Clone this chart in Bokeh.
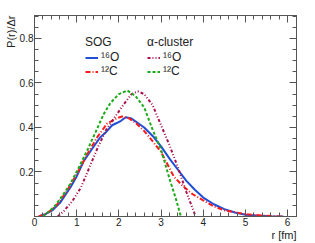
import numpy as np
from bokeh.plotting import figure
from bokeh.models import (Range1d, LinearAxis, FixedTicker, Legend, LegendItem, Title)
from bokeh.embed import file_html
from bokeh.resources import INLINE

# SOG 16O
sog_o_r = [0.1, 0.25, 0.42, 0.6, 0.85, 1.0, 1.17, 1.35, 1.56, 1.7, 1.84, 1.95, 2.05, 2.16, 2.3, 2.45, 2.6, 2.83, 3.0, 3.2, 3.4, 3.6, 3.8, 4.0, 4.25, 4.5, 4.75, 5.0, 5.3, 5.6, 5.9]
sog_o_p = [0.0, 0.01, 0.027, 0.06, 0.13, 0.18, 0.25, 0.30, 0.356, 0.38, 0.41, 0.42, 0.43, 0.446, 0.44, 0.42, 0.40, 0.356, 0.315, 0.26, 0.21, 0.16, 0.12, 0.085, 0.055, 0.033, 0.018, 0.008, 0.003, 0.001, 0.0]
# SOG 12C
sog_c_r = [0.1, 0.3, 0.5, 0.75, 1.0, 1.25, 1.5, 1.72, 1.84, 2.0, 2.08, 2.25, 2.4, 2.59, 2.75, 3.0, 3.3, 3.5, 3.75, 4.0, 4.25, 4.5, 5.0, 5.5, 5.9]
sog_c_p = [0.0, 0.015, 0.045, 0.11, 0.19, 0.28, 0.36, 0.417, 0.43, 0.445, 0.449, 0.44, 0.42, 0.386, 0.35, 0.29, 0.18, 0.14, 0.10, 0.072, 0.045, 0.028, 0.01, 0.003, 0.0]
# alpha-cluster 16O
alp_o_r = [0.55, 0.7, 0.9, 1.1, 1.3, 1.5, 1.7, 1.9, 2.1, 2.3, 2.45, 2.6, 2.8, 3.0, 3.2, 3.4, 3.6, 3.82]
alp_o_p = [0.0, 0.025, 0.07, 0.13, 0.22, 0.31, 0.39, 0.445, 0.50, 0.55, 0.562, 0.55, 0.50, 0.41, 0.32, 0.22, 0.11, 0.0]
# alpha-cluster 12C
alp_c_r = [0.2, 0.46, 0.65, 0.85, 1.05, 1.25, 1.45, 1.64, 1.8, 2.0, 2.2, 2.4, 2.6, 2.8, 3.0, 3.2, 3.35, 3.47]
alp_c_p = [0.0, 0.042, 0.09, 0.147, 0.22, 0.297, 0.38, 0.46, 0.51, 0.55, 0.566, 0.54, 0.49, 0.39, 0.30, 0.17, 0.08, 0.0]

x_ticks = [0, 1, 2, 3, 4, 5, 6]
y_ticks = [0.0, 0.2, 0.4, 0.6, 0.8]

FONT = "Liberation Sans"
FRAME = "#555555"
TXT = "#222222"

p = figure(width=312, height=243, output_backend="svg", toolbar_location=None,
           x_range=Range1d(0, 6.21), y_range=Range1d(0, 0.903),
           min_border_left=34, min_border_right=16, min_border_top=15, min_border_bottom=27)
p.grid.visible = False
p.outline_line_color = FRAME
p.outline_line_width = 1

x_minor = [round(0.2 * i, 2) for i in range(0, 32)]
y_minor = [round(0.05 * i, 2) for i in range(0, 19)]

def style(ax, ticks, minor, labels=True, standoff=3):
    ax.ticker = FixedTicker(ticks=ticks, minor_ticks=minor)
    ax.axis_line_color = FRAME
    ax.major_tick_line_color = FRAME
    ax.minor_tick_line_color = FRAME
    ax.major_tick_in = 7
    ax.major_tick_out = 0
    ax.minor_tick_in = 4
    ax.minor_tick_out = 0
    ax.major_label_text_font = FONT
    ax.major_label_text_color = TXT
    ax.major_label_text_font_size = "10px"
    if labels:
        ax.major_label_standoff = standoff
    else:
        ax.major_label_standoff = 0
        ax.major_label_overrides = {t: "" for t in ticks}

style(p.xaxis[0], x_ticks, x_minor, standoff=1)
style(p.yaxis[0], y_ticks, y_minor, standoff=1)
p.yaxis[0].major_label_overrides = {0.0: ""}

top = LinearAxis()
style(top, x_ticks, x_minor, labels=False)
p.add_layout(top, "above")
right = LinearAxis()
style(right, y_ticks, y_minor, labels=False)
p.add_layout(right, "right")

r1 = p.line(sog_o_r, sog_o_p, line_color="#1f4fd6", line_width=2)
r2 = p.line(sog_c_r, sog_c_p, line_color="#ff1a1a", line_width=2, line_dash="5 2 1 2")
r3 = p.line(alp_o_r, alp_o_p, line_color="#a8124e", line_width=2, line_dash="3 2 1 2 1 2")
r4 = p.line(alp_c_r, alp_c_p, line_color="#1aaa1a", line_width=2, line_dash="3 2")

def make_legend(title, items, loc):
    return Legend(items=items, location=loc, title=title,
                  title_text_font=FONT, title_text_font_size="12px", title_text_font_style="normal",
                  title_text_color=TXT, title_standoff=1,
                  label_text_font=FONT, label_text_font_size="12px", label_text_color=TXT,
                  glyph_width=13, glyph_height=13, label_standoff=3, label_height=13,
                  spacing=0, padding=0, margin=0,
                  border_line_alpha=0, background_fill_alpha=0)

lg1 = make_legend("SOG", [LegendItem(label="\u00b9\u2076O", renderers=[r1]),
                          LegendItem(label="\u00b9\u00b2C", renderers=[r2])], (51, 138))
lg2 = make_legend("\u03b1-cluster", [LegendItem(label="\u00b9\u2076O", renderers=[r3]),
                                     LegendItem(label="\u00b9\u00b2C", renderers=[r4])], (113, 138))
p.add_layout(lg1, "center")
p.add_layout(lg2, "center")

p.add_layout(Title(text="r [fm]", align="right", vertical_align="top", text_font=FONT,
                   text_font_size="11px", text_font_style="normal", text_color=TXT,
                   standoff=0, offset=0), "below")
p.add_layout(Title(text="P(r)/\u0394r", align="right", text_font=FONT, text_font_size="11px",
                   text_font_style="normal", text_color=TXT, standoff=0, offset=0), "left")

open("out.html", "w").write(file_html(p, INLINE))
